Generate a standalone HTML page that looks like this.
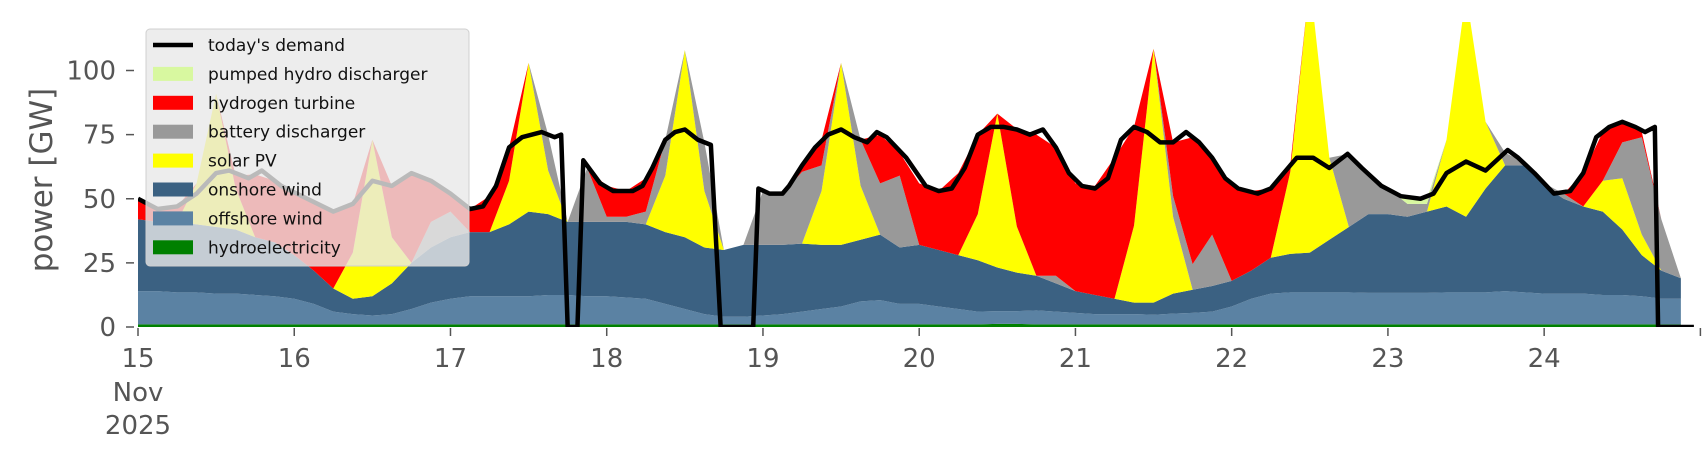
<!DOCTYPE html>
<html><head><meta charset="utf-8"><style>
html,body{margin:0;padding:0;background:#fff;}
svg{display:block;font-family:"DejaVu Sans","Liberation Sans",sans-serif;}
</style></head><body>
<svg id="chart" width="1706" height="460" viewBox="0 0 1706 460">
<defs><clipPath id="plotclip"><rect x="138" y="22" width="1563" height="305"/></clipPath></defs>
<g id="stack" clip-path="url(#plotclip)"></g>
<g id="demand" clip-path="url(#plotclip)"></g>
<g id="axes"></g>
<text transform="translate(52,180) rotate(-90)" text-anchor="middle" font-size="31" fill="#555">power [GW]</text>
<g id="legend"></g>
</svg>
<script>
const stepHours = 3;
const hydroVals = [1,1,1,1,1,1,1,1,1,1, 1,1,1,1,1,1,1,1,1,1, 1,1,1,1,1,1,1,1,1,1, 1,1,1,1,1,1,1,1,1,1, 1,1,1,1,1.2,1.2,1,1,1,1, 1,1,1,1,1,1,1,1,1,1, 1,1,1,1,1,1,1,1,1,1, 1,1,1,1,1,1,1,1,1,1];
const offshoreVals = [13,13,12.5,12.5,12,12,11.5,11,10,8, 5,4,3.5,4,6,8.5,10,11,11,11, 11,11.5,11.5,11,11,10.5,10,8,6,4, 3,3,3.5,4,5,6,7,9,9.5,8, 8,7,6,5,5,5,5.5,5,4.5,4, 4,4,3.8,4.2,4.5,5,7,10,12,12.5, 12.5,12.5,12.5,12.3,12.3,12.3,12.3,12.5,12.5,12.5, 13,12.5,12,12,12,11.5,11.5,11,10,10];
const onshoreVals = [28,27,27.5,26.5,26,25,22.5,21,17,13, 9,6,7.5,12,18,21.5,24,25,25,28, 33,31.5,28.5,29,29,29.5,29,28,28,26, 26,28,27.5,27,26.5,25,24,24,25.5,22, 23,22,21,20,17,15,13.5,11,8.5,7.5, 6,4.5,4.7,7.8,9,10,10,11,14,15, 15.5,20.5,25.5,30.7,30.7,29.7,31.7,33.5,29.5,40.5, 49,49.5,42,37,34,32.5,25.5,16,11,8];
const solarVals = [0,0,0,16,52,16,0,0,0,0, 0,18,61,18,0,0,0,0,0,17, 58,17,0,0,0,0,0,22,73,22, 0,0,0,0,0,21,71,21,0,0, 0,0,0,18,60,18,0,0,0,0, 0,30,99,30,0,0,0,0,0,32, 106,32,0,0,0,0,0,26,87,26, 0,0,0,0,0,12,20,8,0,0];
const batteryVals = [0,0,0,0,0,0,0,0,0,0, 0,0,0,0,0,10,10,0,0,0, 0,14,0,21,2,2,5,14,0,19, 0,0,21,20,28,10,0,18,20,28, 0,0,0,0,0,0,0,3,0,0, 0,0,0,8,10,20,0,0,0,0, 0,0,28.5,16,10,5,3,0,0,0, 5,1,1,2,0,0,14,38,20,0];
const hydrogenVals = [8,5,6,0,0,5,24.5,24,24.5,27, 30,19,0,20,35,16,7,9,14,13, 0,0,0,0,12,10,13,0,0,0, 0,0,0,0,2.5,10,0,0,19,9, 24,23,32,31,0,38,55,50,42,42.5, 55,38.5,0,21,49.5,30,37,31,27,2.5, 0,0,0,0,0,0,0,0,0,0, 0,0,0,0,13,19,8,2,0,0];
const pumpedVals = [0,0,0,0,0,0,0,0,0,0, 0,0,0,0,0,0,0,0,0,0, 0,0,0,0,0,0,0,0,0,0, 0,0,0,0,0,0,0,0,0,0, 0,0,0,0,0,0,0,0,0,0, 0,0,0,0,0,0,0,0,0,0, 0,0,0,0,0,2.5,2,0,0,0, 0,0,0,0,0,0,0,0,0,0];
const demandHours = [0,3,6,9,12,14,17,19,22,26, 30,33,36,39,42,45,48,51,53,55, 57,59,62,64,65,66,67.5,68.4,71,73, 76,77.5,79,81,82.5,84,86,88,89.5,94.5, 95.3,97,99,100,102,104,106,108,110,112, 113.5,115,118,121,123,125,127,129,131,133, 135,137,139,141,143,145,147,149,151,153, 155,157,159,161,163,165,167,169,172,174, 176,178,180.5,183,185.8,188,191,194,197,199, 201,204,207,210.4,212,214.5,217.5,220,222,224, 226,228,230,231.5,233,233.5,239];
const demandVals = [50,46,47,52,60,61,58,61,55,50, 45,48,57,55,60,57,52,46,47,55, 70,74,76,74,75,0,0,65,56,53, 53,55,62,73,76,77,73,71,0,0, 54,52,52,55,63,70,75,77,74,72, 76,74,66,55,53,54,62,75,78,78, 77,75,77,70,60,55,54,58,73,78, 76,72,72,76,72,66,58,54,52,54, 60,66,66,62,67.5,62,55,51,50,52, 60,64.5,61,69,66,60,52,53,60,74, 78,80,78,76,78,0,0];
const seriesNames = ["hydroelectricity","offshore wind","onshore wind","solar PV","battery discharger","hydrogen turbine","pumped hydro discharger"];
const seriesColors = ["#008000","#5b82a3","#3b6182","#ffff00","#999999","#ff0000","#d8f8a0"];
const seriesData = [hydroVals,offshoreVals,onshoreVals,solarVals,batteryVals,hydrogenVals,pumpedVals];
const yTicks = [0,25,50,75,100];
const xTickDays = ["15","16","17","18","19","20","21","22","23","24",""];

const NS = "http://www.w3.org/2000/svg";
const X0 = 138, PXH = 6.51, Y0 = 327, PXV = 2.565;
function xs(h){ return X0 + h*PXH; }
function ys(v){ return Y0 - v*PXV; }
function mk(tag, attrs){ const e = document.createElementNS(NS, tag); for (const k in attrs) e.setAttribute(k, attrs[k]); return e; }

const stackG = document.getElementById("stack");
const n = hydroVals.length;
let base = new Array(n).fill(0);
seriesData.forEach((vals, si) => {
  const top = base.map((b,i)=> b + vals[i]);
  let d = "M" + xs(0) + "," + ys(top[0]);
  for (let i=1;i<n;i++) d += " L" + xs(i*stepHours) + "," + ys(top[i]);
  for (let i=n-1;i>=0;i--) d += " L" + xs(i*stepHours) + "," + ys(base[i]);
  d += " Z";
  const p = mk("path", {d:d, fill:seriesColors[si], stroke:"none"});
  
  
  stackG.appendChild(p);
  base = top;
});

const demG = document.getElementById("demand");
let dd = "";
demandHours.forEach((h,i)=>{ dd += (i? " L":"M") + xs(h) + "," + ys(demandVals[i]); });
const dl = mk("path", {d:dd, fill:"none", stroke:"#000", "stroke-width":"4.5", "stroke-linejoin":"round"});


demG.appendChild(dl);

const ax = document.getElementById("axes");
yTicks.forEach(v=>{
  const t = mk("line",{x1:126,x2:134,y1:ys(v),y2:ys(v),stroke:"#555","stroke-width":"1.5"});
  
  
  ax.appendChild(t);
  const l = mk("text",{x:116,y:ys(v)+9,"text-anchor":"end","font-size":"26",fill:"#555"});
  l.textContent = v;
  
  
  ax.appendChild(l);
});
xTickDays.forEach((lab,k)=>{
  const x = xs(k*24);
  const t = mk("line",{x1:x,x2:x,y1:328,y2:336,stroke:"#555","stroke-width":"1.5"});
  
  
  ax.appendChild(t);
  if (lab) {
    const l = mk("text",{x:x,y:367,"text-anchor":"middle","font-size":"26",fill:"#555"});
    l.textContent = lab;
    
    
    ax.appendChild(l);
  }
});
[["Nov",401],["2025",434]].forEach(([s,y])=>{
  const l = mk("text",{x:xs(0),y:y,"text-anchor":"middle","font-size":"26",fill:"#555"});
  l.textContent = s;
  
  
  ax.appendChild(l);
});

const lg = document.getElementById("legend");
const box = mk("rect",{x:146,y:29,width:323,height:237,rx:4,fill:"rgba(232,232,232,0.8)",stroke:"#d0d0d0","stroke-width":"1"});


lg.appendChild(box);
const legendLabels = ["today's demand","pumped hydro discharger","hydrogen turbine","battery discharger","solar PV","onshore wind","offshore wind","hydroelectricity"];
const legendColors = ["#000","#d8f8a0","#ff0000","#999999","#ffff00","#3b6182","#5b82a3","#008000"];
legendLabels.forEach((lab,i)=>{
  const cy = 45 + i*28.9;
  let h;
  if (i===0) h = mk("line",{x1:153,x2:193,y1:cy,y2:cy,stroke:"#000","stroke-width":"4.5"});
  else h = mk("rect",{x:153,y:cy-7,width:40,height:14,fill:legendColors[i]});
  
  
  lg.appendChild(h);
  const t = mk("text",{x:208,y:cy+6,"font-size":"17",fill:"#111"});
  t.textContent = lab;
  
  
  lg.appendChild(t);
});
</script>
</body></html>
